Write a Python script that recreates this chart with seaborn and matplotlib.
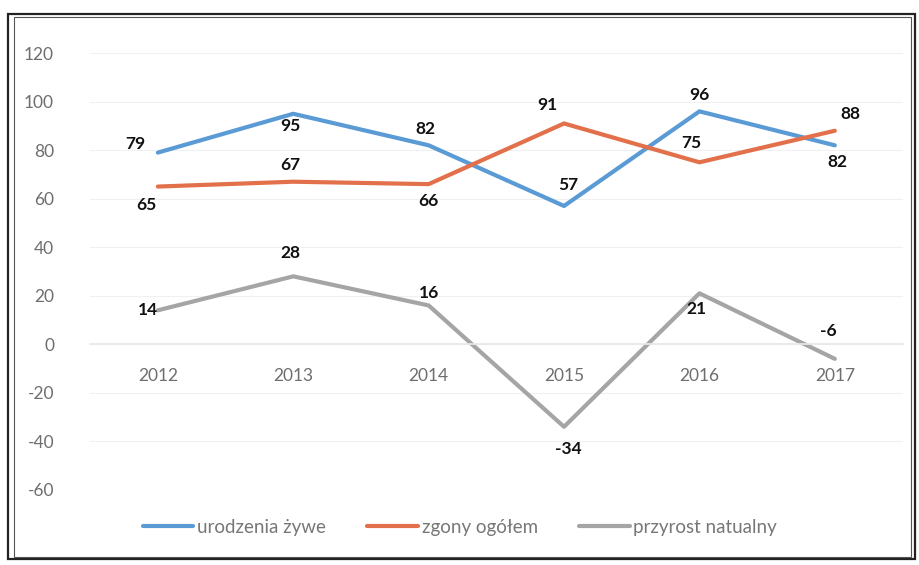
import pandas as pd
import numpy as np
import matplotlib.pyplot as plt
import seaborn as sns
from matplotlib.patches import Rectangle

sns.set_theme(style="white")
plt.rcParams["font.family"] = ["Lato", "DejaVu Sans"]
plt.rcParams["axes.unicode_minus"] = False

years = ["2012", "2013", "2014", "2015", "2016", "2017"]
urodzenia = [79, 95, 82, 57, 96, 82]
zgony = [65, 67, 66, 91, 75, 88]
przyrost = [14, 28, 16, -34, 21, -6]
series_names = ["urodzenia żywe", "zgony ogółem", "przyrost natualny"]
colors = ["#5B9BD5", "#E2704A", "#A5A5A5"]

# label offsets in points (dx, dy) for each series
label_offsets = [
    [(-16, 6), (-2, -9), (-2, 12), (3, 15), (0, 12), (2, -12)],
    [(-8, -13), (-2, 12), (0, -12), (-12, 13), (-6, 14), (11, 12)],
    [(-7, 0), (-2, 17), (0, 9), (3, -16), (-2, -11), (-5, 20)],
]

df = pd.DataFrame({
    "Rok": years * 3,
    "Wartość": urodzenia + zgony + przyrost,
    "Seria": np.repeat(series_names, len(years)),
})

fig = plt.figure(figsize=(9.2, 5.65), dpi=100)
ax = fig.add_axes([0.098, 0.133, 0.883, 0.773])

sns.lineplot(
    data=df, x="Rok", y="Wartość", hue="Seria",
    palette=colors, linewidth=3, ax=ax, sort=False
)

for vals, offs in zip([urodzenia, zgony, przyrost], label_offsets):
    for i, (v, (dx, dy)) in enumerate(zip(vals, offs)):
        ax.annotate(str(v), (i, v), xytext=(dx, dy), textcoords="offset points",
                    ha="center", va="center", fontsize=12.5, fontweight="bold",
                    color="#111111")

ax.set_xlim(-0.5, len(years) - 0.5)
ax.set_ylim(-60, 120)
ax.set_yticks(range(-60, 121, 20))
ax.yaxis.grid(True, color="#F0F0F0", linewidth=0.8)
ax.set_xlabel("")
ax.set_ylabel("")
for s in ["top", "right", "left"]:
    ax.spines[s].set_visible(False)
ax.spines["bottom"].set_position(("data", 0))
ax.spines["bottom"].set_color("#E8E8E8")
ax.tick_params(axis="x", length=0, pad=17, labelsize=12.5, labelcolor="#6E6E6E")
ax.tick_params(axis="y", length=0, pad=26, labelsize=12.5, labelcolor="#6E6E6E")

ax.legend(loc="lower center", bbox_to_anchor=(0.5, 0.022), bbox_transform=fig.transFigure,
          ncol=3, frameon=False, fontsize=13.5, handlelength=2.7, columnspacing=2.2,
          handletextpad=0.2, labelcolor="#777777")

# frame around the chart
fig.patches.append(Rectangle((0.009, 0.01), 0.986, 0.965, transform=fig.transFigure,
                             fill=False, edgecolor="#222222", linewidth=1.6))
fig.patches.append(Rectangle((0.015, 0.015), 0.975, 0.955, transform=fig.transFigure,
                             fill=False, edgecolor="#555555", linewidth=0.8))

fig.savefig("out.png", dpi=100)
